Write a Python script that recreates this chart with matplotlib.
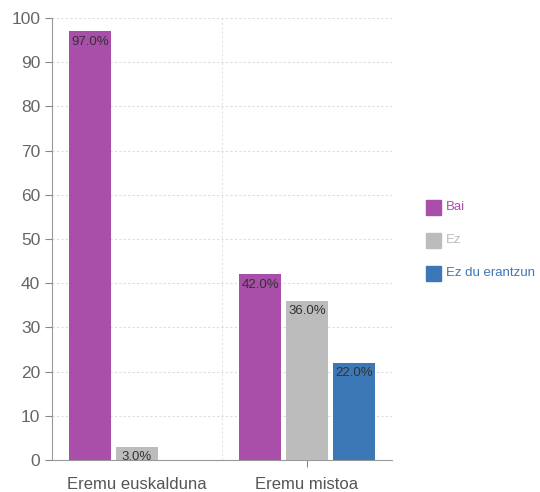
import numpy as np
import matplotlib
matplotlib.use("Agg")
import matplotlib.pyplot as plt
from matplotlib.patches import Rectangle

plt.rcParams["font.family"] = ["Liberation Sans", "DejaVu Sans"]

categories = ["Eremu euskalduna", "Eremu mistoa"]
series = ["Bai", "Ez", "Ez du erantzun"]
values = {
    "Bai": [97.0, 42.0],
    "Ez": [3.0, 36.0],
    "Ez du erantzun": [0.0, 22.0],
}
colors = {"Bai": "#a94ea9", "Ez": "#bcbcbc", "Ez du erantzun": "#3c77b6"}
yticks = [0, 10, 20, 30, 40, 50, 60, 70, 80, 90, 100]

fig = plt.figure(figsize=(5.4, 4.92), dpi=100)
ax = fig.add_axes([52 / 540, 32 / 492, 340 / 540, 442 / 492])

x = np.arange(len(categories))
width = 0.247
offsets = [-0.276, 0.0, 0.276]
for s, off in zip(series, offsets):
    vals = values[s]
    ax.bar(x + off, vals, width=width, color=colors[s], zorder=3)
    for xi, v in zip(x, vals):
        if v > 0:
            ax.text(xi + off, v - 1.0, f"{v:.1f}%", ha="center", va="top",
                    fontsize=9.5, color="#333333", zorder=4)

ax.set_xlim(-0.5, 1.5)
ax.set_ylim(0, 100)
ax.set_yticks(yticks)
ax.set_xticks(x)
ax.set_xticklabels(categories)
ax.tick_params(axis="y", colors="#888888", labelcolor="#666666", labelsize=12.5,
               length=5, width=0.8)
ax.tick_params(axis="x", colors="#888888", labelcolor="#555555", labelsize=12,
               length=5, width=0.8, pad=7)
ax.xaxis.get_major_ticks()[0].tick1line.set_visible(False)

ax.grid(axis="y", linestyle=(0, (2, 2)), color="#dddddd", linewidth=0.8, zorder=0)
for xv in [0.5, 1.5]:
    ax.axvline(xv, linestyle=(0, (2, 2)), color="#e4e4e4", linewidth=0.8, zorder=0)

for side in ["top", "right"]:
    ax.spines[side].set_visible(False)
ax.spines["left"].set_color("#999999")
ax.spines["bottom"].set_color("#999999")

# legend
leg_y = [207, 240, 273]
for s, yy in zip(series, leg_y):
    fig.patches.append(Rectangle((426 / 540, 1 - (yy + 7.5) / 492), 15 / 540, 15 / 492,
                                 transform=fig.transFigure, color=colors[s]))
    fig.text(446 / 540, 1 - yy / 492, s, fontsize=9.5, color=colors[s],
             va="center", ha="left")

fig.savefig("out.png", dpi=100)
